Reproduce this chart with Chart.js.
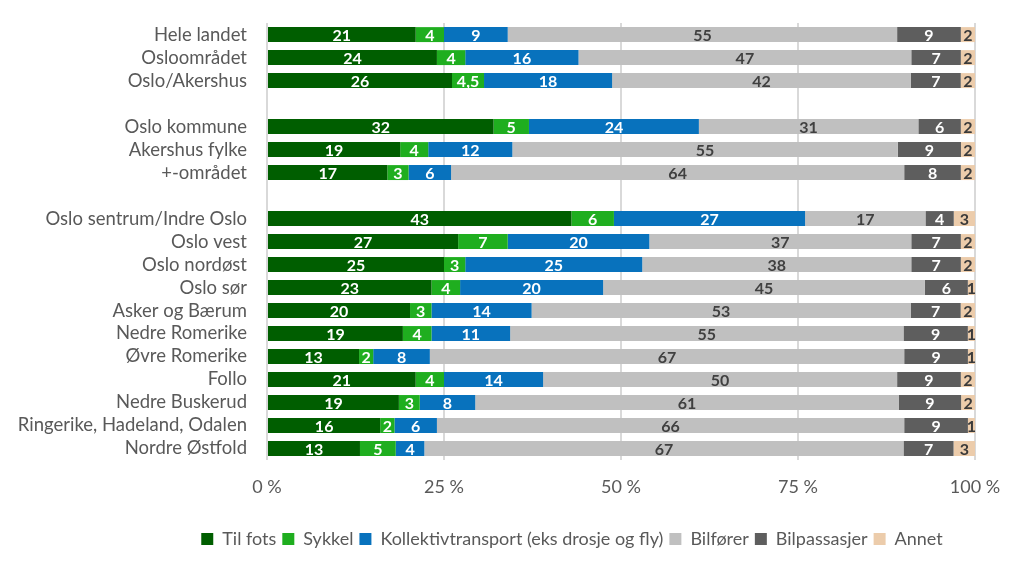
<!DOCTYPE html>
<html>
<head>
<meta charset="utf-8">
<script src="https://cdn.jsdelivr.net/npm/chart.js@4/dist/chart.umd.min.js"></script>
<style>
html, body { margin: 0; padding: 0; background: #ffffff; }
#wrap { width: 1024px; height: 561px; }
</style>
</head>
<body>
<div id="wrap"><canvas id="travelChart" width="1024" height="561"></canvas></div>
<script>
/* ==========================================
DATA
========================================== */

const categories = [
"Hele landet", "Osloområdet", "Oslo/Akershus", "",
"Oslo kommune", "Akershus fylke", "+-området", "",
"Oslo sentrum/Indre Oslo", "Oslo vest", "Oslo nordøst", "Oslo sør",
"Asker og Bærum", "Nedre Romerike", "Øvre Romerike", "Follo",
"Nedre Buskerud", "Ringerike, Hadeland, Odalen", "Nordre Østfold"
];

const tilFots = [21, 24, 26, null, 32, 19, 17, null, 43, 27, 25, 23, 20, 19, 13, 21, 19, 16, 13];
const sykkel = [4, 4, 4.5, null, 5, 4, 3, null, 6, 7, 3, 4, 3, 4, 2, 4, 3, 2, 5];
const kollektiv = [9, 16, 18, null, 24, 12, 6, null, 27, 20, 25, 20, 14, 11, 8, 14, 8, 6, 4];
const bilforer = [55, 47, 42, null, 31, 55, 64, null, 17, 37, 38, 45, 53, 55, 67, 50, 61, 66, 67];
const bilpassasjer = [9, 7, 7, null, 6, 9, 8, null, 4, 7, 7, 6, 7, 9, 9, 9, 9, 9, 7];
const annet = [2, 2, 2, null, 2, 2, 2, null, 3, 2, 2, 1, 2, 1, 1, 2, 2, 1, 3];

const xTicks = [0, 25, 50, 75, 100];

const series = [
{ label: "Til fots", values: tilFots, color: "#005e00", text: "#ffffff" },
{ label: "Sykkel", values: sykkel, color: "#1fae1f", text: "#ffffff" },
{ label: "Kollektivtransport (eks drosje og fly)", values: kollektiv, color: "#0872bd", text: "#ffffff" },
{ label: "Bilfører", values: bilforer, color: "#c0c0c0", text: "#404040" },
{ label: "Bilpassasjer", values: bilpassasjer, color: "#5e5e5e", text: "#ffffff" },
{ label: "Annet", values: annet, color: "#ecccab", text: "#3a3a3a" }
];

/* 100 % stacked: each row scaled to its own sum */
const rowSums = categories.map((c, i) =>
series.reduce((s, d) => s + (d.values[i] || 0), 0)
);

/* ==========================================
SEGMENT LABELS + LEGEND SHIFT
========================================== */

const segmentLabels = {
id: "segmentLabels",
afterDatasetsDraw(chart) {
const ctx = chart.ctx;
ctx.save();
ctx.font = "bold 16px Lato";
ctx.textAlign = "center";
ctx.textBaseline = "middle";
chart.data.datasets.forEach((ds, di) => {
const meta = chart.getDatasetMeta(di);
meta.data.forEach((bar, i) => {
const raw = series[di].values[i];
if (raw === null) return;
const cx = (bar.x + bar.base) / 2;
ctx.fillStyle = series[di].text;
ctx.fillText(String(raw).replace(".", ","), cx, bar.y + 1);
});
});
ctx.restore();
}
};

// legend sits a bit right of the page centre, like the original
const legendShift = {
id: "legendShift",
afterLayout(chart) {
if (chart.legend) chart.legend.left = 169;
}
};

/* ==========================================
CHART
========================================== */

new Chart(
document.getElementById("travelChart"),
{
type: "bar",

data: {
labels: categories,
datasets: series.map(s => ({
label: s.label,
data: s.values.map((v, i) => v === null ? null : v / rowSums[i] * 100),
backgroundColor: s.color,
borderWidth: 0,
barPercentage: 0.65,
categoryPercentage: 1
}))
},

options: {
indexAxis: "y",
responsive: false,
animation: false,

layout: {
padding: { top: 10, right: 49, left: 0, bottom: 3 }
},

plugins: {
legend: {
position: "bottom",
labels: {
boxWidth: 12,
boxHeight: 12,
padding: 6,
color: "#595959",
font: { family: "Lato", size: 18 }
}
},
tooltip: { enabled: false }
},

scales: {
x: {
stacked: true,
min: 0,
max: 100,
afterBuildTicks(scale) {
scale.ticks = xTicks.map(v => ({ value: v }));
},
afterFit(scale) {
scale.height = 64;
},
grid: {
color: "#d9d9d9",
lineWidth: 2,
drawTicks: false
},
border: { display: false },
ticks: {
padding: 16,
color: "#595959",
font: { family: "Lato", size: 18 },
callback: v => v + " %"
}
},
y: {
stacked: true,
afterFit(scale) {
scale.width = 267;
},
grid: { display: false },
border: { display: false },
ticks: {
padding: 12,
autoSkip: false,
color: "#595959",
font: { family: "Lato", size: 18.5 }
}
}
}
},

plugins: [segmentLabels, legendShift]
}
);
</script>
</body>
</html>
